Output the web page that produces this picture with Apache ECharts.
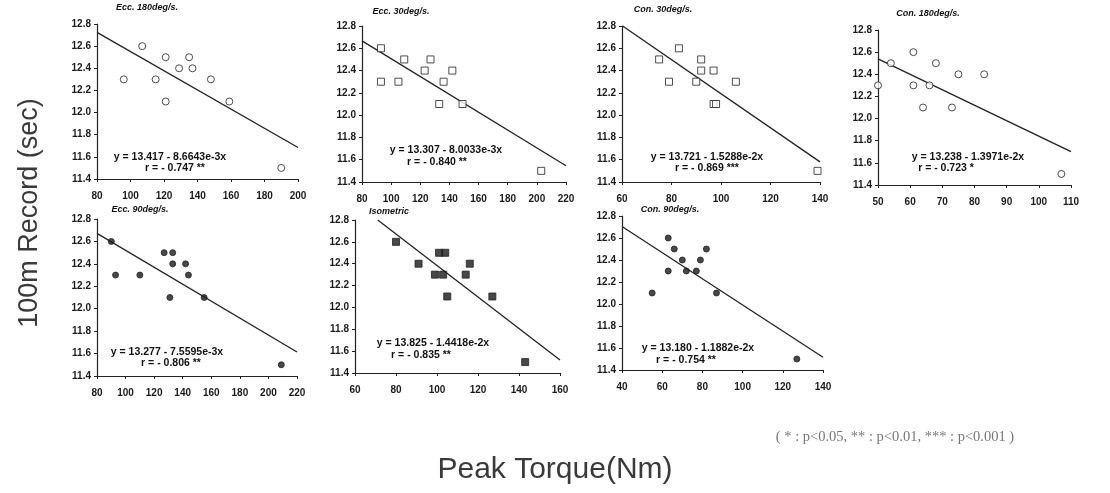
<!DOCTYPE html>
<html>
<head>
<meta charset="utf-8">
<script src="https://cdn.jsdelivr.net/npm/echarts@6/dist/echarts.min.js"></script>
<style>html,body{margin:0;padding:0;background:#fff;}#c{width:1110px;height:493px;}</style>
</head>
<body>
<div id="c"></div>
<script>
// ---- data ----
const panelTitles = ['Ecc. 180deg/s.', 'Ecc. 30deg/s.', 'Con. 30deg/s.', 'Con. 180deg/s.', 'Ecc. 90deg/s.', 'Isometric', 'Con. 90deg/s.'];

const ecc180X = [96, 107, 115, 121, 121, 129, 135, 137, 148, 159, 190];
const ecc180Y = [12.3, 12.6, 12.3, 12.5, 12.1, 12.4, 12.5, 12.4, 12.3, 12.1, 11.5];

const ecc30X = [93, 93, 105, 109, 123, 127, 133, 136, 142, 149, 203];
const ecc30Y = [12.6, 12.3, 12.3, 12.5, 12.4, 12.5, 12.1, 12.3, 12.4, 12.1, 11.5];

const con30X = [75, 79, 83, 90, 92, 92, 97, 97, 98, 106, 139];
const con30Y = [12.5, 12.3, 12.6, 12.3, 12.5, 12.4, 12.4, 12.1, 12.1, 12.3, 11.5];

const con180X = [50, 54, 61, 61, 64, 66, 68, 73, 75, 83, 107];
const con180Y = [12.3, 12.5, 12.6, 12.3, 12.1, 12.3, 12.5, 12.1, 12.4, 12.4, 11.5];

const ecc90X = [90, 93, 110, 127, 131, 133, 133, 142, 144, 155, 209];
const ecc90Y = [12.6, 12.3, 12.3, 12.5, 12.1, 12.5, 12.4, 12.4, 12.3, 12.1, 11.5];

const isoX = [80, 91, 99, 101, 103, 104, 105, 114, 116, 127, 143];
const isoY = [12.6, 12.4, 12.3, 12.5, 12.3, 12.5, 12.1, 12.3, 12.4, 12.1, 11.5];

const con90X = [55, 63, 63, 66, 70, 72, 77, 79, 82, 87, 127];
const con90Y = [12.1, 12.6, 12.3, 12.5, 12.4, 12.3, 12.3, 12.4, 12.5, 12.1, 11.5];

// regression: intercept, slope (as printed)
const intercepts = [13.417, 13.307, 13.721, 13.238, 13.277, 13.825, 13.180];
const slopes = [-8.6643e-3, -8.0033e-3, -1.5288e-2, -1.3971e-2, -7.5595e-3, -1.4418e-2, -1.1882e-2];
const eqTexts = ['y = 13.417 - 8.6643e-3x', 'y = 13.307 - 8.0033e-3x', 'y = 13.721 - 1.5288e-2x', 'y = 13.238 - 1.3971e-2x', 'y = 13.277 - 7.5595e-3x', 'y = 13.825 - 1.4418e-2x', 'y = 13.180 - 1.1882e-2x'];
const rTexts = ['r = - 0.747 **', 'r = - 0.840 **', 'r = - 0.869 ***', 'r = - 0.723 *', 'r = - 0.806 **', 'r = - 0.835 **', 'r = - 0.754 **'];

// axis ranges
const xMins = [80, 80, 60, 50, 80, 60, 40];
const xMaxs = [200, 220, 140, 110, 220, 160, 140];
const xSteps = [20, 20, 20, 10, 20, 20, 20];
const yMin = 11.4, yMax = 12.8, yStep = 0.2;

const xTitle = 'Peak Torque(Nm)';
const yTitle = '100m Record (sec)';
const footnote = '( * : p<0.05, ** : p<0.01, *** : p<0.001 )';

// ---- layout (styles) ----
const grids = [
  {left: 97, top: 24, width: 201, height: 155},
  {left: 362, top: 26, width: 204, height: 156},
  {left: 622, top: 26, width: 198, height: 156},
  {left: 878, top: 30, width: 193, height: 155},
  {left: 97, top: 219, width: 200, height: 157},
  {left: 355, top: 220, width: 205, height: 153},
  {left: 622, top: 216, width: 201, height: 154}
];
const symbols = ['circle', 'rect', 'rect', 'circle', 'circle', 'rect', 'circle'];
const symbolFill = ['#fff', '#fff', '#fff', '#fff', '#1a1a1a', '#1a1a1a', '#1a1a1a'];
const symbolSize = [7, 7, 7, 7, 6, 7, 6];
const titlePos = [[147, 3], [401, 7], [663, 5], [928, 9], [140, 205], [389, 207], [670, 205]];
const eqPos = [[170, 157, 175, 168], [446, 150, 437, 162], [707, 157, 707, 168], [968, 157, 946, 168], [167, 352, 171, 363], [433, 343, 421, 355], [698, 348, 686, 360]];

const xs = [ecc180X, ecc30X, con30X, con180X, ecc90X, isoX, con90X];
const ys = [ecc180Y, ecc30Y, con30Y, con180Y, ecc90Y, isoY, con90Y];

const chart = echarts.init(document.getElementById('c'));
const labelFont = {color: '#1a1a1a', fontSize: 10, fontFamily: 'Liberation Sans, Arial, sans-serif', fontWeight: 'bold'};
const xAxes = [], yAxes = [], series = [], graphics = [];
for (let i = 0; i < 7; i++) {
  xAxes.push({
    gridIndex: i, type: 'value', min: xMins[i], max: xMaxs[i], interval: xSteps[i],
    axisLine: {show: true, onZero: false, lineStyle: {color: '#222', width: 1.2}},
    axisTick: {show: true, length: 3, lineStyle: {color: '#222'}},
    splitLine: {show: false},
    axisLabel: Object.assign({margin: 12}, labelFont)
  });
  yAxes.push({
    gridIndex: i, type: 'value', min: yMin, max: yMax, interval: yStep,
    axisLine: {show: true, onZero: false, lineStyle: {color: '#222', width: 1.2}},
    axisTick: {show: true, length: 3, lineStyle: {color: '#222'}},
    splitLine: {show: false},
    axisLabel: Object.assign({margin: 6, formatter: v => v.toFixed(1)}, labelFont)
  });
  const pts = xs[i].map((x, k) => [x, ys[i][k]]);
  series.push({
    type: 'scatter', xAxisIndex: i, yAxisIndex: i, data: pts,
    symbol: symbols[i], symbolSize: symbolSize[i],
    itemStyle: {color: symbolFill[i], borderColor: '#222', borderWidth: 1},
    silent: true, z: 3
  });
  // regression line clipped to the y range
  let x0 = xMins[i];
  const yAt = x => intercepts[i] + slopes[i] * x;
  if (yAt(x0) > yMax) x0 = (yMax - intercepts[i]) / slopes[i];
  let x1 = xMaxs[i];
  if (yAt(x1) < yMin) x1 = (yMin - intercepts[i]) / slopes[i];
  series.push({
    type: 'line', xAxisIndex: i, yAxisIndex: i,
    data: [[x0, yAt(x0)], [x1, yAt(x1)]],
    symbol: 'none', lineStyle: {color: '#222', width: 1.3}, silent: true, z: 2
  });
  graphics.push({
    type: 'text', x: titlePos[i][0], y: titlePos[i][1],
    style: {text: panelTitles[i], fill: '#111', font: 'italic bold 9px Liberation Sans, Arial, sans-serif', textAlign: 'center', textVerticalAlign: 'top'}
  });
  graphics.push({
    type: 'text', x: eqPos[i][0], y: eqPos[i][1],
    style: {text: eqTexts[i], fill: '#111', font: 'bold 10.5px Liberation Sans, Arial, sans-serif', textAlign: 'center', textVerticalAlign: 'middle'}
  });
  graphics.push({
    type: 'text', x: eqPos[i][2], y: eqPos[i][3],
    style: {text: rTexts[i], fill: '#111', font: 'bold 10.5px Liberation Sans, Arial, sans-serif', textAlign: 'center', textVerticalAlign: 'middle'}
  });
}
graphics.push({
  type: 'text', x: 30, y: 213, rotation: Math.PI / 2,
  style: {text: yTitle, fill: '#3a3a3a', font: '27px Liberation Sans, Arial, sans-serif', textAlign: 'center', textVerticalAlign: 'middle'}
});
graphics.push({
  type: 'text', x: 555, y: 470,
  style: {text: xTitle, fill: '#3a3a3a', font: '30px Liberation Sans, Arial, sans-serif', textAlign: 'center', textVerticalAlign: 'middle'}
});
graphics.push({
  type: 'text', x: 895, y: 437,
  style: {text: footnote, fill: '#777', font: '14.5px Liberation Serif, Times New Roman, serif', textAlign: 'center', textVerticalAlign: 'middle'}
});

chart.setOption({
  animation: false,
  backgroundColor: '#fff',
  grid: grids.map(g => Object.assign({containLabel: false}, g)),
  xAxis: xAxes,
  yAxis: yAxes,
  series: series,
  graphic: graphics
});
</script>
</body>
</html>
